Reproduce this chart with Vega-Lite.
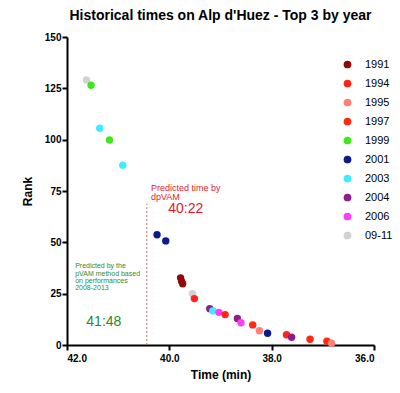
{
  "$schema": "https://vega.github.io/schema/vega-lite/v6.json",
  "width": 307,
  "height": 308,
  "autosize": {"type": "none"},
  "padding": {"left": 67, "top": 37, "right": 26, "bottom": 48},
  "background": "white",
  "title": {"text": "Historical times on Alp d'Huez - Top 3 by year", "font": "Liberation Sans", "fontSize": 14, "fontWeight": "bold", "color": "black", "offset": 9},
  "config": {
    "view": {"stroke": null},
    "font": "Liberation Sans",
    "axis": {"domainColor": "black", "domainWidth": 2, "tickColor": "black", "tickWidth": 2, "tickSize": 5, "labelFont": "Liberation Sans", "labelFontSize": 10, "labelFontWeight": "bold", "labelColor": "black", "titleFont": "Liberation Sans", "titleFontSize": 12, "titleFontWeight": "bold", "titleColor": "black", "grid": false}
  },
  "layer": [
    {
      "data": {"values": [
        {"time": 41.62, "rank": 129.1, "year": "09-11"},
        {"time": 41.53, "rank": 126.5, "year": "1999"},
        {"time": 41.36, "rank": 105.6, "year": "2003"},
        {"time": 41.17, "rank": 99.8, "year": "1999"},
        {"time": 40.91, "rank": 87.6, "year": "2003"},
        {"time": 40.24, "rank": 53.7, "year": "2001"},
        {"time": 40.07, "rank": 50.7, "year": "2001"},
        {"time": 39.78, "rank": 32.7, "year": "1991"},
        {"time": 39.76, "rank": 31.0, "year": "1991"},
        {"time": 39.74, "rank": 29.8, "year": "1991"},
        {"time": 39.55, "rank": 25.0, "year": "09-11"},
        {"time": 39.51, "rank": 22.6, "year": "1994"},
        {"time": 39.21, "rank": 17.7, "year": "2004"},
        {"time": 39.15, "rank": 16.6, "year": "2003"},
        {"time": 39.03, "rank": 15.9, "year": "2006"},
        {"time": 38.91, "rank": 14.8, "year": "1994"},
        {"time": 38.67, "rank": 12.9, "year": "2004"},
        {"time": 38.60, "rank": 10.8, "year": "2006"},
        {"time": 38.37, "rank": 9.8, "year": "1997"},
        {"time": 38.24, "rank": 6.9, "year": "1995"},
        {"time": 38.08, "rank": 5.7, "year": "2001"},
        {"time": 37.71, "rank": 5.0, "year": "1994"},
        {"time": 37.61, "rank": 3.8, "year": "2004"},
        {"time": 37.25, "rank": 2.8, "year": "1997"},
        {"time": 36.92, "rank": 1.8, "year": "1997"},
        {"time": 36.83, "rank": 0.9, "year": "1995"}
      ]},
      "mark": {"type": "circle", "size": 55, "opacity": 1},
      "encoding": {
        "x": {"field": "time", "type": "quantitative", "title": "Time (min)", "scale": {"domain": [36, 42], "reverse": true, "nice": false, "zero": false}, "axis": {"values": [36, 38, 40, 42], "format": ".1f", "labelPadding": 3, "titlePadding": 6}},
        "y": {"field": "rank", "type": "quantitative", "title": "Rank", "scale": {"domain": [0, 150], "nice": false}, "axis": {"values": [0, 25, 50, 75, 100, 125, 150], "labelPadding": 1, "titlePadding": 10}},
        "color": {"field": "year", "type": "nominal", "scale": {"domain": ["1991", "1994", "1995", "1997", "1999", "2001", "2003", "2004", "2006", "09-11"], "range": ["#8E0A0A", "#FF2418", "#FF8078", "#FF2A10", "#3FE81A", "#0A1A8C", "#3EEBFF", "#8C1F8C", "#FF3DF5", "#D2D2D2"]},
          "legend": {"title": null, "orient": "none", "legendX": 275, "legendY": 22, "padding": 0, "symbolSize": 60, "symbolType": "circle", "labelFontSize": 11, "labelFont": "Liberation Sans", "labelColor": "black", "labelOffset": 12, "rowPadding": 7, "symbolStrokeWidth": 0}}
      }
    },
    {
      "data": {"values": [{"time": 40.44, "r0": 0, "r1": 68.9}]},
      "mark": {"type": "rule", "color": "#E06A6A", "strokeWidth": 1, "strokeDash": [2, 2]},
      "encoding": {"x": {"field": "time", "type": "quantitative"}, "y": {"field": "r0", "type": "quantitative"}, "y2": {"field": "r1"}}
    },
    {
      "data": {"values": [
        {"time": 40.36, "rank": 76.4, "label": "Predicted time by"},
        {"time": 40.36, "rank": 71.9, "label": "dpVAM"}
      ]},
      "mark": {"type": "text", "align": "left", "baseline": "middle", "fontSize": 9, "color": "#E0242A", "font": "Liberation Sans"},
      "encoding": {"x": {"field": "time", "type": "quantitative"}, "y": {"field": "rank", "type": "quantitative"}, "text": {"field": "label"}}
    },
    {
      "data": {"values": [{"time": 39.68, "rank": 66.2, "label": "40:22"}]},
      "mark": {"type": "text", "align": "center", "baseline": "middle", "fontSize": 14, "color": "#E8141E", "font": "Liberation Sans"},
      "encoding": {"x": {"field": "time", "type": "quantitative"}, "y": {"field": "rank", "type": "quantitative"}, "text": {"field": "label"}}
    },
    {
      "data": {"values": [
        {"time": 41.84, "rank": 38.4, "label": "Predicted by the"},
        {"time": 41.84, "rank": 34.8, "label": "pVAM method based"},
        {"time": 41.84, "rank": 31.2, "label": "on performances"},
        {"time": 41.84, "rank": 27.6, "label": "2008-2013"}
      ]},
      "mark": {"type": "text", "align": "left", "baseline": "middle", "fontSize": 7, "color": "#2E8B2E", "font": "Liberation Sans"},
      "encoding": {"x": {"field": "time", "type": "quantitative"}, "y": {"field": "rank", "type": "quantitative"}, "text": {"field": "label"}}
    },
    {
      "data": {"values": [{"time": 41.28, "rank": 11.1, "label": "41:48"}]},
      "mark": {"type": "text", "align": "center", "baseline": "middle", "fontSize": 14, "color": "#2A8A2A", "font": "Liberation Sans"},
      "encoding": {"x": {"field": "time", "type": "quantitative"}, "y": {"field": "rank", "type": "quantitative"}, "text": {"field": "label"}}
    }
  ]
}
